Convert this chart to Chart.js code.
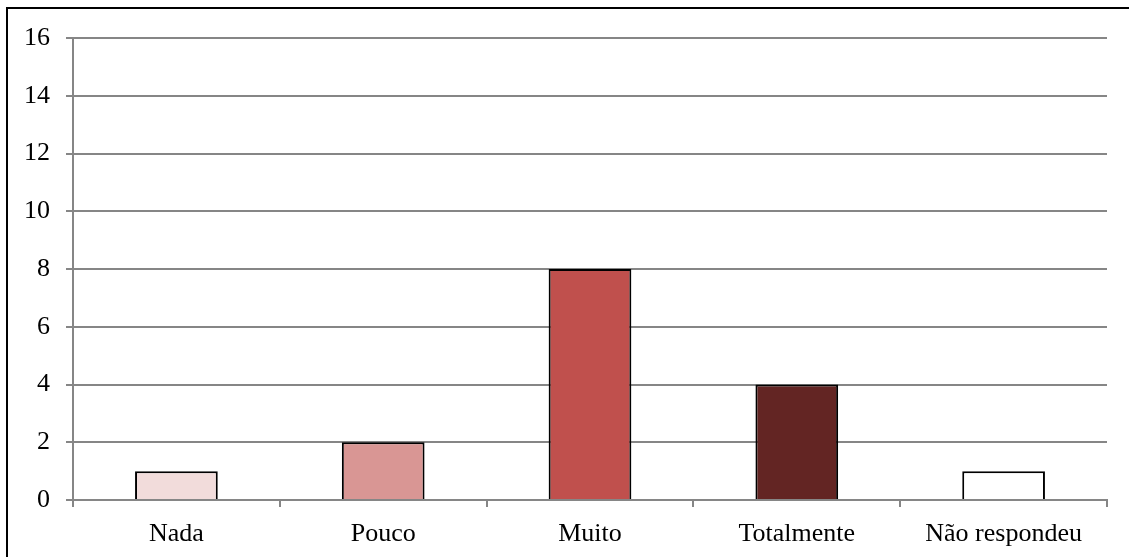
<!DOCTYPE html>
<html>
<head>
<meta charset="utf-8">
<script src="https://cdn.jsdelivr.net/npm/chart.js@4/dist/chart.umd.min.js"></script>
<style>
html,body{margin:0;padding:0;background:#fff;}
#wrap{position:relative;width:1129px;height:557px;overflow:hidden;}
#frame{position:absolute;left:6px;top:7px;width:1200px;height:600px;border-left:2px solid #000;border-top:2px solid #000;pointer-events:none;}
canvas{position:absolute;left:0;top:0;}
</style>
</head>
<body>
<div id="wrap">
<canvas id="c" width="1129" height="557"></canvas>
<div id="frame"></div>
</div>
<script>
const categories = ["Nada", "Pouco", "Muito", "Totalmente", "Não respondeu"];
const values = [1, 2, 8, 4, 1];
const barColors = ["#F2DCDB", "#D99694", "#C0504D", "#632523", "#FFFFFF"];
const yTicks = [0, 2, 4, 6, 8, 10, 12, 14, 16];

const gridColor = "#868686";
const font = {family: "'Liberation Serif', 'Times New Roman', serif", size: 26};

new Chart(document.getElementById('c'), {
  type: 'bar',
  data: {
    labels: categories,
    datasets: [{
      data: values,
      backgroundColor: barColors,
      borderColor: "#000",
      borderWidth: 2,
      barPercentage: 0.4,
      categoryPercentage: 1.0
    }]
  },
  options: {
    responsive: false,
    animation: false,
    devicePixelRatio: 1,
    layout: {padding: {left: 0, top: 38, right: 22, bottom: 0}},
    plugins: {legend: {display: false}, tooltip: {enabled: false}},
    scales: {
      x: {
        offset: true,
        grid: {display: true, drawOnChartArea: false, drawTicks: true, tickLength: 7, color: gridColor, lineWidth: 2, offset: true},
        border: {display: true, color: gridColor, width: 2},
        ticks: {color: "#000", font: font, padding: 12, maxRotation: 0, autoSkip: false},
        afterFit: s => { s.height = 57; }
      },
      y: {
        min: 0, max: 16,
        afterBuildTicks: s => { s.ticks = yTicks.map(v => ({value: v})); },
        grid: {color: gridColor, lineWidth: 2, tickLength: 7, drawTicks: true},
        border: {display: true, color: gridColor, width: 2},
        ticks: {color: "#000", font: font, padding: 16},
        afterFit: s => { s.width = 73; }
      }
    }
  }
});
</script>
</body>
</html>
